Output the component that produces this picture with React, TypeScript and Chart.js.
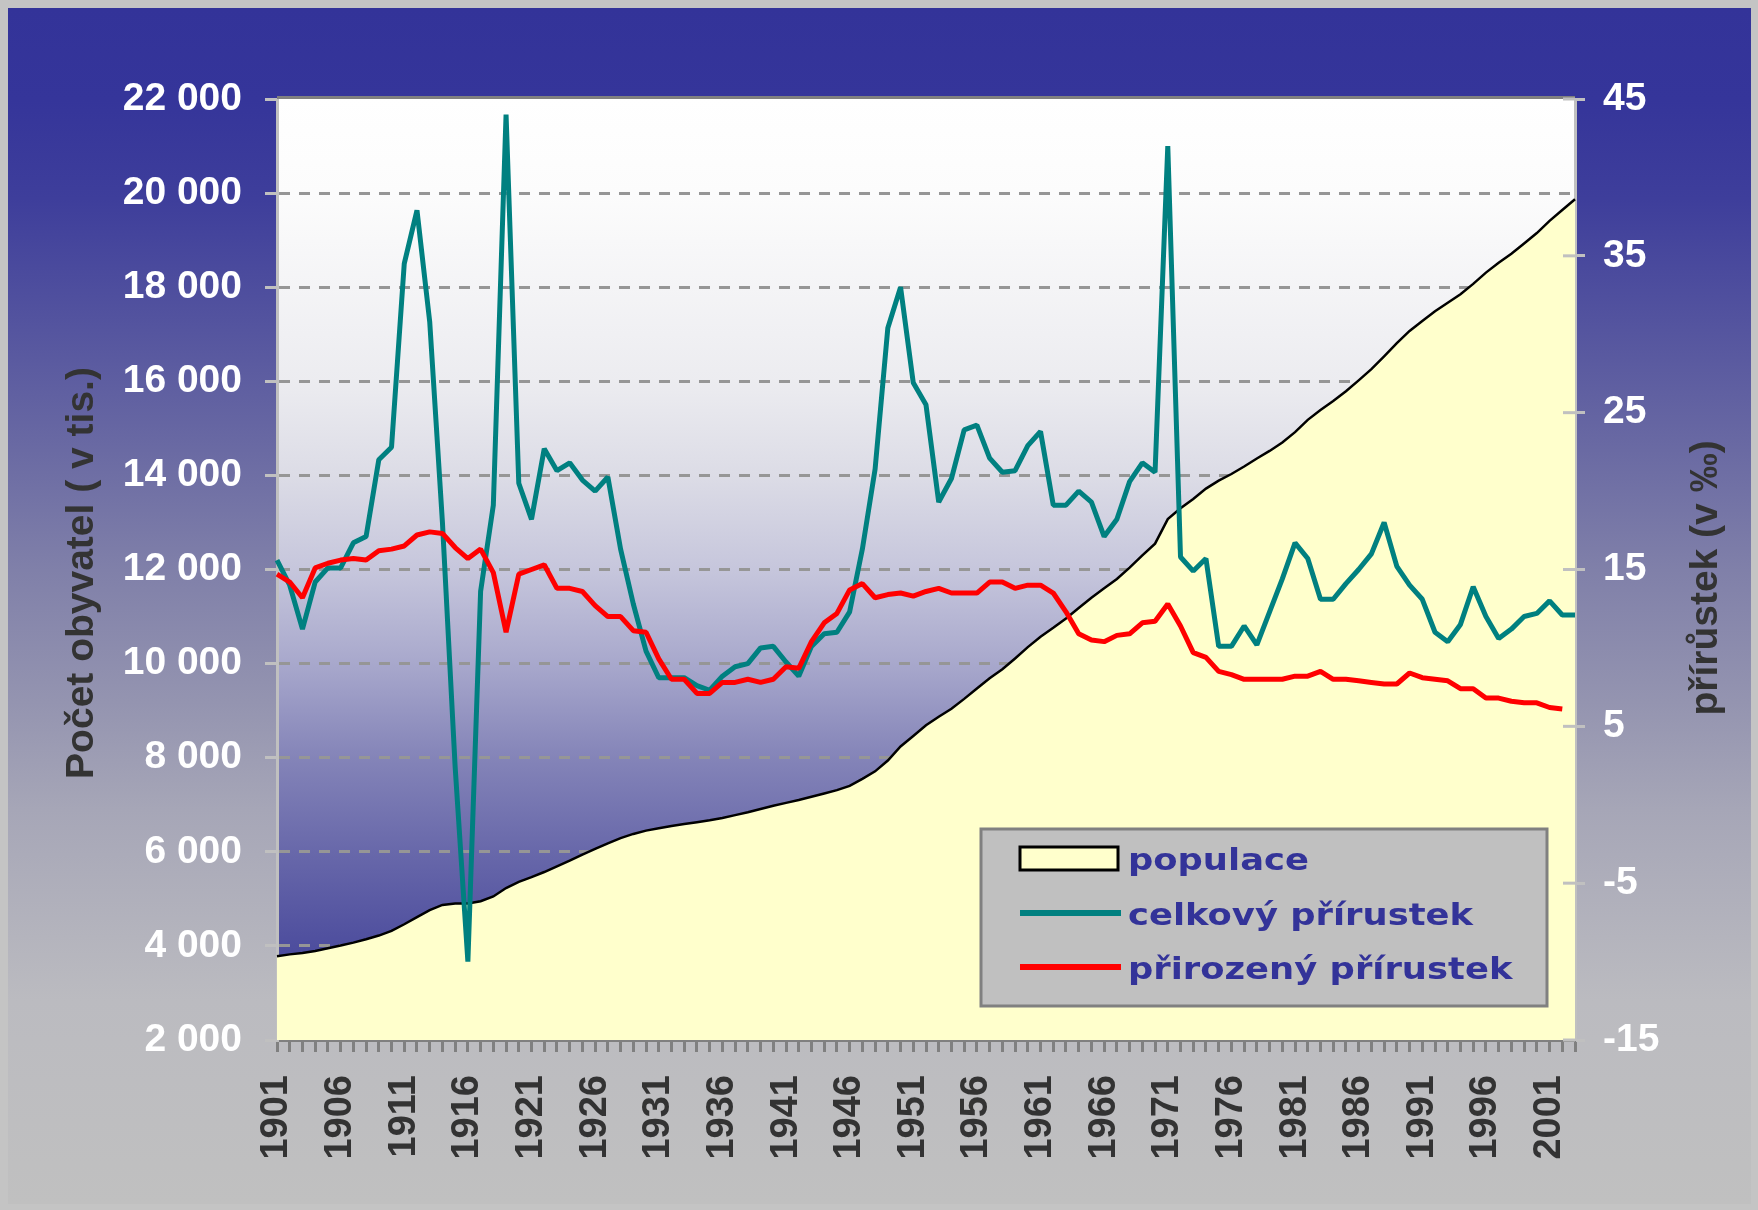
import React, { useEffect, useRef } from 'react';
import { Chart, registerables } from 'chart.js';
Chart.register(...registerables);

const W = 1758;
const H = 1210;

// categories: years 1901..2003
const years: string[] = Array.from({ length: 103 }, (_, i) => String(1901 + i));

// population (thousands)
const populace = [
  3780, 3820, 3850, 3890, 3950, 4010, 4070, 4140, 4220, 4320,
  4460, 4610, 4760, 4870, 4900, 4900, 4950, 5050, 5230, 5360,
  5460, 5570, 5690, 5810, 5940, 6060, 6180, 6290, 6380, 6450,
  6500, 6550, 6590, 6630, 6670, 6720, 6780, 6840, 6910, 6980,
  7040, 7100, 7170, 7240, 7310, 7400, 7550, 7710, 7940, 8240,
  8460, 8690, 8870, 9040, 9250, 9470, 9690, 9880, 10110, 10350,
  10570, 10760, 10960, 11180, 11400, 11600, 11800, 12040, 12300, 12550,
  13070, 13300, 13500, 13720, 13890, 14030, 14190, 14360, 14520, 14700,
  14920, 15180, 15390, 15580, 15790, 16020, 16260, 16530, 16810, 17070,
  17280, 17490, 17670, 17850, 18070, 18310, 18520, 18710, 18930, 19150,
  19410, 19640, 19870,
];

// total growth (per mille)
const celkovy = [
  15.6, 14.0, 11.2, 14.2, 15.1, 15.1, 16.7, 17.1, 22.0, 22.8,
  34.5, 37.9, 30.8, 18.0, 2.4, -10.0, 13.6, 19.1, 44.0, 20.5,
  18.2, 22.7, 21.3, 21.8, 20.7, 20.0, 20.9, 16.3, 12.8, 9.8,
  8.1, 8.1, 8.1, 7.6, 7.3, 8.2, 8.8, 9.0, 10.0, 10.1,
  9.1, 8.2, 10.1, 10.9, 11.0, 12.3, 16.3, 21.4, 30.4, 33.0,
  26.9, 25.5, 19.3, 20.8, 23.9, 24.2, 22.1, 21.2, 21.3, 22.9,
  23.8, 19.1, 19.1, 20.0, 19.3, 17.1, 18.2, 20.6, 21.8, 21.2,
  42.0, 15.8, 14.9, 15.7, 10.1, 10.1, 11.4, 10.2, 12.3, 14.4,
  16.7, 15.7, 13.1, 13.1, 14.1, 15.0, 16.0, 18.0, 15.2, 14.0,
  13.1, 11.0, 10.4, 11.5, 13.9, 12.0, 10.6, 11.2, 12.0, 12.2,
  13.0, 12.1, 12.1,
];

// natural growth (per mille)
const prirozeny = [
  14.7, 14.2, 13.2, 15.1, 15.4, 15.6, 15.7, 15.6, 16.2, 16.3,
  16.5, 17.2, 17.4, 17.3, 16.4, 15.7, 16.3, 14.8, 11.0, 14.7,
  15.0, 15.3, 13.8, 13.8, 13.6, 12.7, 12.0, 12.0, 11.1, 11.0,
  9.3, 8.0, 8.0, 7.1, 7.1, 7.8, 7.8, 8.0, 7.8, 8.0,
  8.8, 8.7, 10.4, 11.6, 12.2, 13.7, 14.1, 13.2, 13.4, 13.5,
  13.3, 13.6, 13.8, 13.5, 13.5, 13.5, 14.2, 14.2, 13.8, 14.0,
  14.0, 13.5, 12.3, 10.9, 10.5, 10.4, 10.8, 10.9, 11.6, 11.7,
  12.8, 11.4, 9.7, 9.4, 8.5, 8.3, 8.0, 8.0, 8.0, 8.0,
  8.2, 8.2, 8.5, 8.0, 8.0, 7.9, 7.8, 7.7, 7.7, 8.4,
  8.1, 8.0, 7.9, 7.4, 7.4, 6.8, 6.8, 6.6, 6.5, 6.5,
  6.2, 6.1, null,
];

const seriesNames = ['populace', 'celkový přírustek', 'přirozený přírustek'];
const leftTitle = 'Počet obyvatel ( v tis.)';
const rightTitle = 'přírůstek (v ‰)';
const rightTickValues = [-15, -5, 5, 15, 25, 35, 45];

const FONT = "'Liberation Sans', Arial, sans-serif";

const decorPlugin = {
  id: 'decor',
  beforeDraw(chart: any) {
    const { ctx, chartArea: a } = chart;
    ctx.save();
    ctx.fillStyle = '#c4c4c4';
    ctx.fillRect(0, 0, W, H);
    const g = ctx.createLinearGradient(0, 8, 0, 1204);
    g.addColorStop(0, '#333399');
    g.addColorStop(0.077, '#35359a');
    g.addColorStop(0.16, '#3e3e9b');
    g.addColorStop(0.27, '#55559f');
    g.addColorStop(0.37, '#6a6aa3');
    g.addColorStop(0.47, '#8080a9');
    g.addColorStop(0.58, '#9494b0');
    g.addColorStop(0.67, '#a6a6b7');
    g.addColorStop(0.83, '#bbbbc0');
    g.addColorStop(1, '#c0c0c0');
    ctx.fillStyle = g;
    ctx.fillRect(8, 8, 1743, 1196);
    const pg = ctx.createLinearGradient(0, a.top, 0, a.bottom);
    pg.addColorStop(0, '#ffffff');
    pg.addColorStop(0.1, '#fcfcfc');
    pg.addColorStop(0.3, '#ececf0');
    pg.addColorStop(0.4, '#dcdce6');
    pg.addColorStop(0.5, '#c6c6dc');
    pg.addColorStop(0.6, '#a8a8cc');
    pg.addColorStop(0.7, '#8484b8');
    pg.addColorStop(0.8, '#6868aa');
    pg.addColorStop(0.9, '#4e4e9e');
    pg.addColorStop(1, '#3c3c98');
    ctx.fillStyle = pg;
    ctx.fillRect(a.left, a.top, a.right - a.left, a.bottom - a.top);
    ctx.restore();
  },
  afterDraw(chart: any) {
    const { ctx, chartArea: a } = chart;
    ctx.save();
    // top border of plot
    ctx.strokeStyle = '#808080';
    ctx.lineWidth = 3;
    ctx.beginPath();
    ctx.moveTo(a.left, a.top - 1.5);
    ctx.lineTo(a.right, a.top - 1.5);
    ctx.stroke();
    // inner part of right ticks
    const y1 = chart.scales.y1;
    ctx.strokeStyle = '#c0c0c0';
    rightTickValues.forEach((v) => {
      const py = y1.getPixelForValue(v);
      ctx.beginPath();
      ctx.moveTo(a.right - 12, py);
      ctx.lineTo(a.right, py);
      ctx.stroke();
    });

    // axis titles
    ctx.fillStyle = '#333333';
    ctx.font = `bold 39px ${FONT}`;
    ctx.textAlign = 'center';
    ctx.textBaseline = 'alphabetic';
    ctx.save();
    ctx.translate(93, 573);
    ctx.rotate(-Math.PI / 2);
    ctx.fillText(leftTitle, 0, 0);
    ctx.restore();
    ctx.save();
    ctx.translate(1717, 578);
    ctx.rotate(-Math.PI / 2);
    ctx.fillText(rightTitle, 0, 0);
    ctx.restore();

    // legend
    const lx = 981, ly = 829, lw = 566, lh = 177;
    ctx.fillStyle = '#c0c0c0';
    ctx.fillRect(lx, ly, lw, lh);
    ctx.strokeStyle = '#808080';
    ctx.lineWidth = 3;
    ctx.strokeRect(lx, ly, lw, lh);
    const rows = [858, 913, 967];
    const colors = ['#000000', '#008080', '#ff0000'];
    // populace symbol
    ctx.fillStyle = '#ffffcc';
    ctx.fillRect(1020, rows[0] - 11, 98, 23);
    ctx.strokeStyle = '#000000';
    ctx.lineWidth = 3;
    ctx.strokeRect(1020, rows[0] - 11, 98, 23);
    for (let i = 1; i < 3; i++) {
      ctx.strokeStyle = colors[i];
      ctx.lineWidth = 6;
      ctx.beginPath();
      ctx.moveTo(1020, rows[i]);
      ctx.lineTo(1121, rows[i]);
      ctx.stroke();
    }
    ctx.fillStyle = '#333399';
    ctx.font = "bold 31px 'DejaVu Sans', Verdana, sans-serif";
    ctx.textAlign = 'left';
    ctx.textBaseline = 'alphabetic';
    seriesNames.forEach((name, i) => {
      ctx.save();
      ctx.translate(1128, rows[i] + 12);
      ctx.scale(1.14, 1);
      ctx.fillText(name, 0, 0);
      ctx.restore();
    });
    ctx.restore();
  },
};

export default function App() {
  const ref = useRef<HTMLCanvasElement | null>(null);
  useEffect(() => {
    document.body.style.margin = '0';
    document.body.style.background = '#c4c4c4';
    const canvas = ref.current!;
    const chart = new Chart(canvas, {
      type: 'line',
      data: {
        labels: years,
        datasets: [
          {
            label: seriesNames[0],
            data: populace,
            yAxisID: 'y',
            borderColor: '#000000',
            borderWidth: 2.5,
            backgroundColor: '#ffffcc',
            fill: 'start',
            pointRadius: 0,
            tension: 0,
            order: 3,
          },
          {
            label: seriesNames[1],
            data: celkovy,
            yAxisID: 'y1',
            borderColor: '#008080',
            borderWidth: 5,
            borderJoinStyle: 'bevel',
            fill: false,
            pointRadius: 0,
            tension: 0,
            order: 2,
          },
          {
            label: seriesNames[2],
            data: prirozeny,
            yAxisID: 'y1',
            borderColor: '#ff0000',
            borderWidth: 5,
            borderJoinStyle: 'bevel',
            fill: false,
            pointRadius: 0,
            tension: 0,
            order: 1,
          },
        ],
      },
      options: {
        responsive: false,
        devicePixelRatio: 1,
        animation: false,
        layout: { padding: { top: 99, left: 0, right: 0, bottom: 0 } },
        plugins: {
          legend: { display: false },
          tooltip: { enabled: false },
          title: { display: false },
        },
        scales: {
          x: {
            type: 'category',
            offset: false,
            grid: {
              drawOnChartArea: false,
              drawTicks: true,
              tickLength: 12,
              tickColor: '#808080',
              tickWidth: 3,
              color: '#808080',
            },
            border: { color: '#808080', width: 3 },
            ticks: {
              autoSkip: false,
              minRotation: 90,
              maxRotation: 90,
              padding: 23,
              color: '#333333',
              font: { family: FONT, weight: 'bold', size: 38 },
              callback: (_v: any, idx: number) =>
                (Number(years[idx]) - 1901) % 5 === 0 ? years[idx] : '',
            },
            afterFit: (s: any) => {
              s.height = 170;
            },
          },
          y: {
            position: 'left',
            min: 2000,
            max: 22000,
            grid: {
              color: (c: any) =>
                c.tick && (c.tick.value === 2000 || c.tick.value === 22000)
                  ? 'rgba(0,0,0,0)'
                  : '#969696',
              lineWidth: 3,
              tickLength: 12,
              tickColor: '#c0c0c0',
              tickWidth: 3,
              tickBorderDash: [],
            },
            border: { color: '#c0c0c0', width: 3, dash: [11, 9] },
            ticks: {
              stepSize: 2000,
              padding: 23,
              color: '#ffffff',
              font: { family: FONT, weight: 'bold', size: 39 },
              callback: (v: any) => `${Number(v) / 1000} 000`,
            },
            afterFit: (s: any) => {
              s.width = 277;
            },
          },
          y1: {
            position: 'right',
            min: -15,
            max: 45,
            grid: {
              drawOnChartArea: false,
              tickLength: 10,
              tickColor: '#c0c0c0',
              tickWidth: 3,
            },
            border: { color: '#c0c0c0', width: 3 },
            ticks: {
              stepSize: 10,
              padding: 18,
              color: '#ffffff',
              font: { family: FONT, weight: 'bold', size: 39 },
            },
            afterFit: (s: any) => {
              s.width = 183;
            },
          },
        },
      } as any,
      plugins: [decorPlugin],
    });
    return () => chart.destroy();
  }, []);
  return (
    <canvas
      ref={ref}
      width={W}
      height={H}
      style={{ display: 'block', width: W + 'px', height: H + 'px' }}
    />
  );
}
